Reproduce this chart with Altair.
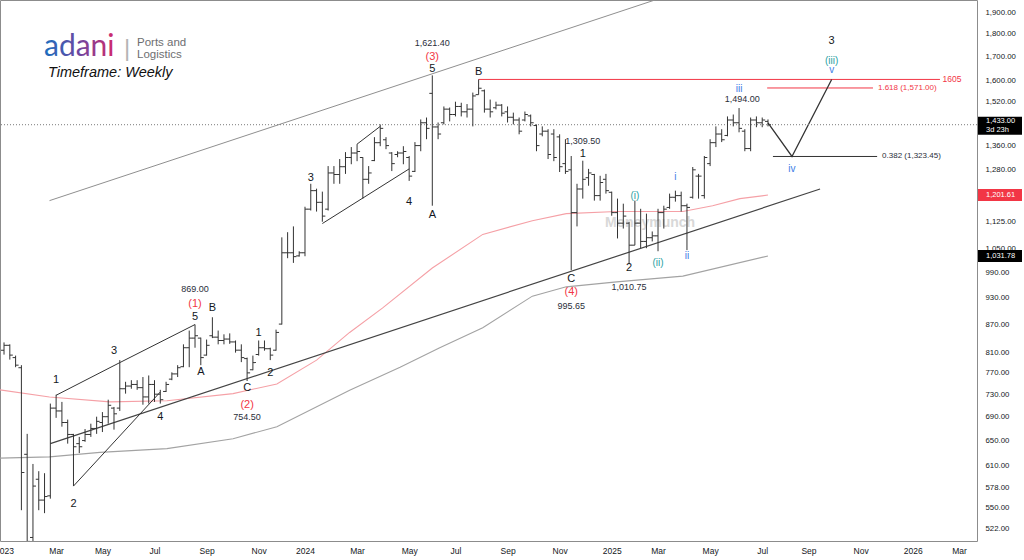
import altair as alt
import pandas as pd

# ---------------- data ----------------
first_week = "2023-01-02"  # weekly bars, one every 7 days
opens = [815, 825, 800, 780, 628, 510, 590, 560, 566, 705, 700, 680, 660, 645, 650, 660, 670, 680, 690, 705,
         705, 740, 745, 748, 742, 725, 748, 730, 735, 758, 768, 782, 820, 840, 840, 805, 845, 842, 835, 838,
         832, 815, 798, 776, 806, 820, 818, 815, 870, 1040, 1040, 1032, 1040, 1160, 1215, 1180, 1160, 1270, 1265, 1290,
         1320, 1335, 1320, 1250, 1310, 1370, 1380, 1335, 1330, 1335, 1320, 1275, 1360, 1440, 1550, 1425, 1440, 1490, 1470, 1500,
         1480, 1490, 1545, 1560, 1490, 1495, 1505, 1480, 1460, 1450, 1450, 1465, 1430, 1400, 1410, 1400, 1390, 1300, 1280, 1150,
         1220, 1255, 1265, 1200, 1250, 1210, 1150, 1120, 1120, 1060, 1120, 1070, 1080, 1085, 1150, 1165, 1195, 1200, 1170, 1195,
         1260, 1200, 1300, 1370, 1400, 1395, 1450, 1440, 1410, 1350, 1450, 1440, 1445]
highs = [831, 827, 804, 785, 661, 613, 602, 599, 713, 729, 716, 685, 661, 656, 669, 678, 690, 698, 720, 707,
         795, 753, 756, 756, 762, 765, 756, 738, 753, 771, 785, 827, 856, 869, 841, 837, 885, 856, 848, 850,
         835, 827, 800, 804, 835, 835, 820, 858, 1081, 1095, 1111, 1044, 1167, 1236, 1221, 1212, 1292, 1292, 1315, 1338,
         1355, 1365, 1321, 1292, 1389, 1434, 1389, 1338, 1341, 1358, 1325, 1372, 1452, 1459, 1621.4, 1441, 1500, 1496, 1518, 1514,
         1509, 1553, 1605, 1565, 1526, 1518, 1509, 1500, 1477, 1459, 1481, 1470, 1434, 1427, 1417, 1417, 1399, 1382, 1325, 1236,
         1309.5, 1283, 1267, 1261, 1267, 1212, 1191, 1176, 1124, 1185, 1161, 1147, 1097, 1161, 1170, 1206, 1215, 1212, 1176, 1289,
         1267, 1325, 1382, 1427, 1417, 1463, 1470, 1494, 1417, 1459, 1463, 1459, 1452]
lows = [806, 796, 781, 546, 395, 500, 546, 542, 562, 688, 673, 645, 580, 630, 648, 656, 661, 664, 678, 668,
        700, 731, 740, 738, 711, 713, 716, 713, 734, 756, 762, 781, 781, 820, 785, 804, 840, 827, 827, 828,
        810, 791, 754.5, 775, 804, 814, 795, 814, 869, 1026, 1014, 1030, 1031, 1156, 1153, 1124, 1156, 1236, 1236, 1267,
        1298, 1308, 1191, 1236, 1308, 1358, 1348, 1276, 1321, 1298, 1245, 1273, 1341, 1382, 1170, 1382, 1434, 1445, 1463, 1463,
        1459, 1427, 1545, 1477, 1459, 1489, 1463, 1441, 1434, 1399, 1445, 1427, 1341, 1392, 1315, 1308, 1273, 1267, 995.65, 1111,
        1191, 1230, 1185, 1185, 1206, 1141, 1078, 1105, 1010.75, 1060, 1052, 1052, 1070, 1044, 1105, 1161, 1182, 1153, 1047, 1191,
        1191, 1191, 1292, 1355, 1372, 1392, 1427, 1406, 1341, 1341, 1424, 1424, 1427]
closes = [825, 805, 785, 600, 505, 580, 560, 565, 705, 700, 680, 660, 640, 640, 660, 670, 682, 690, 710, 695,
          740, 745, 748, 742, 725, 748, 730, 720, 748, 768, 780, 820, 840, 845, 800, 825, 842, 835, 838, 832,
          815, 800, 770, 790, 820, 818, 805, 852, 1040, 1040, 1030, 1040, 1160, 1215, 1180, 1140, 1270, 1265, 1290, 1320,
          1335, 1340, 1250, 1270, 1370, 1420, 1360, 1300, 1335, 1340, 1260, 1360, 1440, 1420, 1425, 1400, 1490, 1470, 1500, 1480,
          1490, 1540, 1570, 1490, 1480, 1505, 1475, 1460, 1450, 1410, 1470, 1440, 1360, 1410, 1330, 1320, 1290, 1275, 1150, 1220,
          1250, 1270, 1200, 1240, 1215, 1150, 1120, 1140, 1060, 1120, 1070, 1080, 1085, 1150, 1160, 1195, 1200, 1170, 1165, 1280,
          1260, 1320, 1370, 1400, 1380, 1450, 1440, 1420, 1350, 1450, 1440, 1450, 1433]

ma50_dates = ["2022-12-28", "2023-02-26", "2023-05-10", "2023-07-18", "2023-10-06", "2023-11-28", "2024-01-15",
              "2024-02-24", "2024-04-04", "2024-06-03", "2024-08-03", "2024-10-02", "2024-11-12", "2025-01-12",
              "2025-04-02", "2025-05-08", "2025-06-10", "2025-07-14"]
ma50_vals = [738, 725, 716, 718, 731, 749, 795, 852, 906, 1001, 1089, 1127, 1147, 1153, 1153, 1170, 1191, 1201.61]

ma200_dates = ["2022-12-28", "2023-02-26", "2023-04-28", "2023-07-18", "2023-10-06", "2023-11-28", "2024-02-24",
               "2024-04-25", "2024-06-12", "2024-08-03", "2024-10-02", "2024-11-12", "2025-01-12", "2025-04-02",
               "2025-07-14"]
ma200_vals = [622, 624, 631, 637, 653, 673, 737, 781, 820, 862, 933, 955, 967, 981, 1031.78]

# 1,440 and 1,200 sit under the price tags in the reference, so they are not shown
y_tick_values = [522, 550, 578, 610, 650, 690, 730, 770, 810, 870, 930, 990, 1050, 1125, 1280, 1360,
                 1520, 1600, 1700, 1800, 1900]
x_tick_dates = ["2023-01-02", "2023-03-06", "2023-05-01", "2023-07-03", "2023-09-04", "2023-11-06",
                "2024-01-01", "2024-03-04", "2024-05-06", "2024-07-01", "2024-09-02", "2024-11-04",
                "2025-01-06", "2025-03-03", "2025-05-05", "2025-07-07", "2025-09-01", "2025-11-03",
                "2026-01-05", "2026-03-02"]

# drawn analysis lines: name, dates, prices, colour, width
drawn_lines = [
    ("channel_top", ["2023-02-26", "2025-04-23"], [1185, 2033], "#8f8f8f", 1.0),
    ("trend_bottom", ["2023-02-27", "2025-09-15"], [645, 1220], "#444444", 1.2),
    ("diag_top", ["2023-03-06", "2023-05-22", "2023-08-21"], [728, 790, 869], "#333333", 1.0),
    ("diag_bottom", ["2023-03-27", "2023-07-10"], [580, 734], "#333333", 1.0),
    ("par_bottom", ["2024-01-22", "2024-05-06"], [1119, 1283], "#333333", 1.0),
    ("par_top", ["2024-03-04", "2024-04-01"], [1365, 1427], "#333333", 1.0),
    ("level_1605", ["2024-07-29", "2026-02-07"], [1605, 1605], "#f23645", 1.0),
    ("fib_1618", ["2025-07-13", "2025-11-18"], [1571, 1571], "#f23645", 1.0),
    ("fib_0382", ["2025-07-20", "2025-11-23"], [1323.45, 1323.45], "#333333", 1.0),
    ("projection", ["2025-07-14", "2025-08-12", "2025-09-29"], [1440, 1323.45, 1605], "#333333", 1.3),
]

RED, BLK, DARK, TEAL, BLUE = "#f23645", "#131722", "#2a2e39", "#2a9fa3", "#3d7be6"
# date, price, text, colour, size
labels_center = [
    ("2024-06-03", 1758, "1,621.40", DARK, 9), ("2024-06-03", 1698, "(3)", RED, 11),
    ("2024-06-03", 1647, "5", BLK, 11), ("2024-06-03", 1143, "A", BLK, 11),
    ("2024-07-29", 1635, "B", BLK, 11), ("2024-01-08", 1254, "3", BLK, 11),
    ("2024-05-06", 1181, "4", BLK, 11), ("2024-12-02", 1377, "1,309.50", DARK, 9),
    ("2024-12-02", 1332, "1", BLK, 11), ("2024-11-18", 974, "C", BLK, 11),
    ("2024-11-18", 943, "(4)", RED, 11), ("2024-11-18", 910, "995.65", DARK, 9),
    ("2025-01-27", 1001, "2", BLK, 11), ("2025-01-27", 955, "1,010.75", DARK, 9),
    ("2025-02-03", 1199, "(i)", TEAL, 10), ("2025-03-03", 1014, "(ii)", TEAL, 10),
    ("2025-03-24", 1257, "i", BLUE, 10), ("2025-04-07", 1032, "ii", BLUE, 10),
    ("2025-06-09", 1567, "iii", BLUE, 10), ("2025-06-13", 1528, "1,494.00", DARK, 9),
    ("2025-08-12", 1283, "iv", BLUE, 10), ("2025-09-29", 1643, "v", BLUE, 10),
    ("2025-09-29", 1681, "(iii)", TEAL, 10), ("2025-09-29", 1767, "3", BLK, 11),
    ("2023-08-21", 950, "869.00", DARK, 9), ("2023-08-21", 915, "(1)", RED, 11),
    ("2023-08-21", 886, "5", BLK, 11), ("2023-09-11", 906, "B", BLK, 11),
    ("2023-08-28", 772, "A", BLK, 11), ("2023-05-15", 813, "3", BLK, 11),
    ("2023-03-06", 756, "1", BLK, 11), ("2023-03-27", 555, "2", BLK, 11),
    ("2023-07-10", 690, "4", BLK, 11), ("2023-10-23", 741, "C", BLK, 11),
    ("2023-10-23", 710, "(2)", RED, 11), ("2023-10-23", 689, "754.50", DARK, 9),
    ("2023-11-06", 851, "1", BLK, 11), ("2023-11-20", 770, "2", BLK, 11),
]
labels_left = [
    ("2026-02-10", 1605, "1605", RED, 8.5),
    ("2025-11-24", 1571, "1.618 (1,571.00)", RED, 8),
    ("2025-11-29", 1323.45, "0.382 (1,323.45)", DARK, 8),
]

# ---------------- build tables ----------------
def ts(s):
    return s + "T00:00:00"


def dt(s):
    y, m, d = (int(v) for v in s.split("-"))
    return alt.DateTime(year=y, month=m, date=d)


weeks = pd.date_range(first_week, periods=len(closes), freq="7D").strftime("%Y-%m-%dT00:00:00")
bars = pd.DataFrame({"date": weeks, "open": opens, "high": highs, "low": lows, "close": closes})
ma50 = pd.DataFrame({"date": [ts(d) for d in ma50_dates], "price": ma50_vals})
ma200 = pd.DataFrame({"date": [ts(d) for d in ma200_dates], "price": ma200_vals})

rows = []
for name, ds, ps, col, w in drawn_lines:
    for k, (d, p) in enumerate(zip(ds, ps)):
        rows.append({"name": name, "ord": k, "date": ts(d), "price": p, "color": col, "w": w})
lines_df = pd.DataFrame(rows)

lab_c = pd.DataFrame([{"date": ts(d), "price": p, "text": t, "color": c, "size": s}
                      for d, p, t, c, s in labels_center])
lab_l = pd.DataFrame([{"date": ts(d), "price": p, "text": t, "color": c, "size": s}
                      for d, p, t, c, s in labels_left])

last_price = pd.DataFrame({"price": [closes[-1]]})
tags = pd.DataFrame({"price": [ma50_vals[-1], ma200_vals[-1]], "bg": [RED, "#000000"]})

# ---------------- scales / axes ----------------
FONT = "Liberation Sans"
X_SCALE = alt.Scale(domain=[alt.DateTime(year=2022, month=12, date=28, hours=3),
                            alt.DateTime(year=2026, month=3, date=23, hours=19)])
Y_SCALE = alt.Scale(type="log", domain=[505.5, 1958])
x_axis = alt.Axis(values=[dt(s) for s in x_tick_dates],
                  labelExpr="month(datum.value) == 0 ? timeFormat(datum.value, '%Y') : timeFormat(datum.value, '%b')",
                  ticks=False, domain=False, grid=False, labelFontSize=8.5, labelColor=BLK, labelFont=FONT,
                  labelPadding=5, labelFlush=False, labelOverlap=False)
y_axis = alt.Axis(orient="right", values=y_tick_values, format=",.2f", ticks=False, domain=False, grid=False,
                  labelFontSize=7.8, labelColor=BLK, labelFont=FONT, labelPadding=8, labelOverlap=False)


def X(field="date"):
    return alt.X(f"{field}:T", scale=X_SCALE, axis=x_axis, title=None)


def Y(field="price"):
    return alt.Y(f"{field}:Q", scale=Y_SCALE, axis=y_axis, title=None)


BAR_COL = "#333333"

ma50_layer = alt.Chart(ma50).mark_line(color="#f5a0a6", strokeWidth=1.1, clip=True).encode(x=X(), y=Y())
ma200_layer = alt.Chart(ma200).mark_line(color="#a3a3a3", strokeWidth=1.1, clip=True).encode(x=X(), y=Y())

lines_layer = alt.Chart(lines_df).mark_line(clip=True).encode(
    x=X(), y=Y(), detail="name:N", order="ord:Q",
    color=alt.Color("color:N", scale=None), strokeWidth=alt.StrokeWidth("w:Q", scale=None))

last_rule = alt.Chart(last_price).mark_rule(color="#7a7a7a", strokeDash=[1, 2], strokeWidth=1).encode(y=Y())

wick = alt.Chart(bars).mark_rule(color=BAR_COL, strokeWidth=1, clip=True).encode(
    x=X(), y=Y("low"), y2=alt.Y2("high:Q"))
open_tick = alt.Chart(bars).mark_tick(orient="horizontal", size=3, thickness=1, xOffset=-1.5,
                                      color=BAR_COL, opacity=1, clip=True).encode(x=X(), y=Y("open"))
close_tick = alt.Chart(bars).mark_tick(orient="horizontal", size=3, thickness=1, xOffset=1.5,
                                       color=BAR_COL, opacity=1, clip=True).encode(x=X(), y=Y("close"))

text_c = alt.Chart(lab_c).mark_text(align="center", baseline="middle", font=FONT).encode(
    x=X(), y=Y(), text="text:N", color=alt.Color("color:N", scale=None), size=alt.Size("size:Q", scale=None))
text_l = alt.Chart(lab_l).mark_text(align="left", baseline="middle", font=FONT).encode(
    x=X(), y=Y(), text="text:N", color=alt.Color("color:N", scale=None), size=alt.Size("size:Q", scale=None))

# price tags on the right scale
tag_last = alt.Chart(last_price).mark_tick(orient="horizontal", size=44, thickness=18, yOffset=1,
                                           color="#000000", opacity=1).encode(x=alt.value(1000), y=Y())
tag_last_t1 = alt.Chart(last_price).mark_text(align="left", baseline="middle", color="white", fontSize=7.5,
                                              font=FONT, dy=-4).encode(
    x=alt.value(986), y=Y(), text=alt.Text("price:Q", format=",.2f"))
tag_last_t2 = alt.Chart(pd.DataFrame({"price": [closes[-1]], "t": ["3d 23h"]})).mark_text(
    align="left", baseline="middle", color="white", fontSize=7.5, font=FONT, dy=5).encode(
    x=alt.value(986), y=Y(), text="t:N")
tag_ma = alt.Chart(tags).mark_tick(orient="horizontal", size=44, thickness=12, opacity=1).encode(
    x=alt.value(1000), y=Y(), color=alt.Color("bg:N", scale=None))
tag_ma_t = alt.Chart(tags).mark_text(align="left", baseline="middle", color="white", fontSize=7.5,
                                     font=FONT).encode(
    x=alt.value(986), y=Y(), text=alt.Text("price:Q", format=",.2f"))

# logo / title texts
logo_grad = alt.LinearGradient(gradient="linear", x1=0, x2=1, y1=0, y2=0,
                               stops=[alt.GradientStop(offset=0, color="#1a6fbf"),
                                      alt.GradientStop(offset=0.5, color="#6e46a0"),
                                      alt.GradientStop(offset=1, color="#d12a6c")])
one = pd.DataFrame({"t": ["adani"]})
logo = alt.Chart(one).mark_text(align="left", baseline="alphabetic", font="Lato", fontSize=30,
                                color=logo_grad).encode(x=alt.value(44), y=alt.value(56), text="t:N")
sep = alt.Chart(pd.DataFrame({"t": ["|"]})).mark_text(align="center", baseline="alphabetic", font=FONT,
                                                      fontSize=24, color="#b5b5b5").encode(
    x=alt.value(127), y=alt.value(56), text="t:N")
ports = alt.Chart(pd.DataFrame({"t": ["Ports and"]})).mark_text(align="left", baseline="alphabetic", font=FONT,
                                                                fontSize=11.5, color="#6d6e71").encode(
    x=alt.value(137), y=alt.value(45.5), text="t:N")
logi = alt.Chart(pd.DataFrame({"t": ["Logistics"]})).mark_text(align="left", baseline="alphabetic", font=FONT,
                                                               fontSize=11.5, color="#6d6e71").encode(
    x=alt.value(137), y=alt.value(58), text="t:N")
tf = alt.Chart(pd.DataFrame({"t": ["Timeframe: Weekly"]})).mark_text(
    align="left", baseline="middle", font=FONT, fontSize=14.5, fontStyle="italic", color="#111111").encode(
    x=alt.value(48), y=alt.value(73), text="t:N")
wm = alt.Chart(pd.DataFrame({"t": ["Moneymunch"]})).mark_text(
    align="center", baseline="middle", font=FONT, fontSize=14, fontWeight="bold", color="#d8d8d8").encode(
    x=alt.value(650), y=alt.value(223), text="t:N")

chart = alt.layer(
    ma200_layer, ma50_layer, lines_layer, last_rule, wm, wick, open_tick, close_tick,
    text_c, text_l, logo, sep, ports, logi, tf,
    tag_ma, tag_ma_t, tag_last, tag_last_t1, tag_last_t2,
).properties(
    width=977, height=541,
    autosize=alt.AutoSizeParams(type="none"),
    padding={"left": 0, "top": 0, "right": 47, "bottom": 19},
    background="white",
).configure_view(stroke="#8c8c8c", strokeWidth=1)

chart.save("out.html", embed_options={"renderer": "svg", "actions": False})
